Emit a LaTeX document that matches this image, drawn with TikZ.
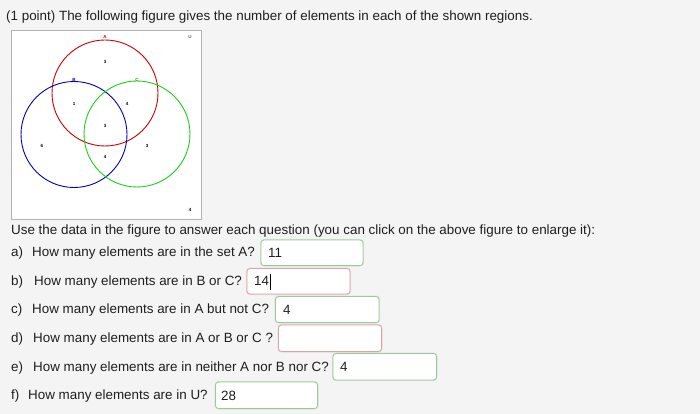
\documentclass[tikz,border=0pt]{standalone}
\usepackage{fontspec}
\setmainfont{Liberation Sans}
\begin{document}
\begin{tikzpicture}[x=1pt,y=-1pt,
  txt/.style={anchor=base west,inner sep=0pt,font=\fontsize{13.4}{15}\selectfont,text=black!88},
  tiny/.style={inner sep=0pt,font=\fontsize{4.5}{5}\selectfont\bfseries},
  setA/.style={draw=red!80!black,line width=0.9pt},
  setB/.style={draw=blue!75!black,line width=0.9pt},
  setC/.style={draw=green!80!black!90!white,line width=0.9pt}]
\definecolor{bg}{HTML}{F4F4F4}
\definecolor{okc}{HTML}{9CC99C}
\definecolor{badc}{HTML}{D9A3A8}
\fill[bg] (0,0) rectangle (700,414);
\useasboundingbox (0,0) rectangle (700,414);
% title
\node[txt] (title) at (6,21) {(1 point) The following figure gives the number of elements in each of the shown regions.};
% figure frame
\draw[black!30,fill=white,line width=0.8pt] (11,30) rectangle (201,219);
\node[draw=none] (frame) at (106,124.5) {};
% circles
\draw[setA] (105,93) circle (53);
\draw[setB] (74,134.5) circle (53);
\draw[setC] (137,134) circle (53);
% labels
\node[tiny,text=red!80!black] (lA) at (105,37) {A};
\node[tiny,text=blue!75!black] (lB) at (74,80) {B};
\node[tiny,text=green!70!black] (lC) at (137,80) {C};
\node[tiny,text=black!60] (lU) at (190,37) {U};
\node[tiny] (n1) at (105,62) {3};
\node[tiny] (n2) at (74,104) {1};
\node[tiny] (n3) at (127,104) {4};
\node[tiny] (n4) at (105,126) {3};
\node[tiny] (n5) at (42,146) {6};
\node[tiny] (n6) at (147,146) {3};
\node[tiny] (n7) at (105,157) {4};
\node[tiny] (n8) at (190,210) {4};
% questions
\node[txt] (use) at (11,234) {Use the data in the figure to answer each question (you can click on the above figure to enlarge it):};
\node[txt] (qa0) at (11,256.5) {a)};
\node[txt] (qa) at (32,256.5) {How many elements are in the set A?};
\node[txt] (qb0) at (11,285) {b)};
\node[txt] (qb) at (34,285) {How many elements are in B or C?};
\node[txt] (qc0) at (11,313.5) {c)};
\node[txt] (qc) at (32,313.5) {How many elements are in A but not C?};
\node[txt] (qd0) at (11,342) {d)};
\node[txt] (qd) at (33,342) {How many elements are in A or B or C ?};
\node[txt] (qe0) at (11,371) {e)};
\node[txt] (qe) at (33,371) {How many elements are in neither A nor B nor C?};
\node[txt] (qf0) at (11,399.5) {f)};
\node[txt] (qf) at (28,399.5) {How many elements are in U?};
% answer boxes
\draw[okc,line width=2pt,rounded corners=3pt,opacity=0.35] (261,240) rectangle (363,265.5);
\draw[okc,line width=0.8pt,rounded corners=3pt,fill=white] (261,240) rectangle (363,265.5);
\node[txt] (va) at (268,257) {11};
\draw[badc,line width=2pt,rounded corners=3pt,opacity=0.35] (247,268.5) rectangle (350,294);
\draw[badc,line width=0.8pt,rounded corners=3pt,fill=white] (247,268.5) rectangle (350,294);
\node[txt] (vb) at (254,285.5) {14};
\draw[black,line width=0.8pt] (270,273.5) -- (270,289.5);
\draw[okc,line width=2pt,rounded corners=3pt,opacity=0.35] (275.5,296.5) rectangle (379,322.5);
\draw[okc,line width=0.8pt,rounded corners=3pt,fill=white] (275.5,296.5) rectangle (379,322.5);
\node[txt] (vc) at (283,314) {4};
\draw[badc,line width=2pt,rounded corners=3pt,opacity=0.35] (278.5,325) rectangle (381.5,351.5);
\draw[badc,line width=0.8pt,rounded corners=3pt,fill=white] (278.5,325) rectangle (381.5,351.5);
\draw[okc,line width=2pt,rounded corners=3pt,opacity=0.35] (333,353.5) rectangle (436.5,380);
\draw[okc,line width=0.8pt,rounded corners=3pt,fill=white] (333,353.5) rectangle (436.5,380);
\node[txt] (ve) at (340,371.5) {4};
\draw[okc,line width=2pt,rounded corners=3pt,opacity=0.35] (215.5,382) rectangle (317.5,408.5);
\draw[okc,line width=0.8pt,rounded corners=3pt,fill=white] (215.5,382) rectangle (317.5,408.5);
\node[txt] (vf) at (221,400) {28};
\end{tikzpicture}
\end{document}
